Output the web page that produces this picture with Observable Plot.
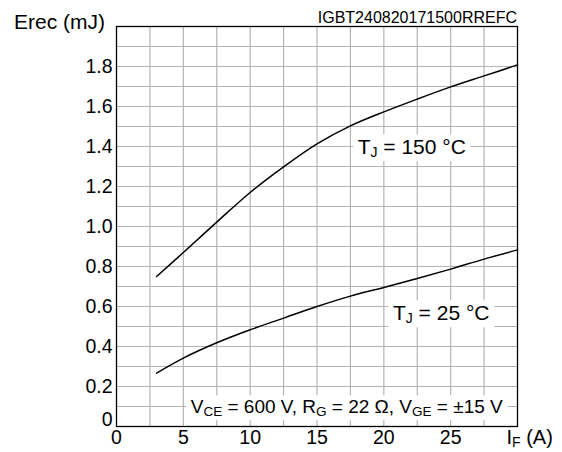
<!DOCTYPE html>
<html>
<head>
<meta charset="utf-8">
<script src="https://cdn.jsdelivr.net/npm/d3@7"></script>
<script src="https://cdn.jsdelivr.net/npm/@observablehq/plot@0.6"></script>
<style>
  html, body { margin: 0; padding: 0; background: #fff; }
  #chart svg { display: block; }
</style>
</head>
<body>
<div id="chart"></div>
<script>
// ---- data ----
const currentA = [3, 5, 7.5, 10, 12.5, 15, 17.5, 20, 22.5, 25, 27.5, 30];
const erec150 = [0.75, 0.87, 1.022, 1.17, 1.298, 1.413, 1.503, 1.573, 1.637, 1.698, 1.753, 1.808];
const erec25  = [0.267, 0.342, 0.4185, 0.4835, 0.542, 0.60, 0.652, 0.695, 0.74, 0.787, 0.837, 0.883];

const xTicks = [0, 5, 10, 15, 20, 25];
const yTicks = [0, 0.2, 0.4, 0.6, 0.8, 1.0, 1.2, 1.4, 1.6, 1.8];
const xGrid = [2.5, 5, 7.5, 10, 12.5, 15, 17.5, 20, 22.5, 25, 27.5];
const yGrid = [0.1,0.2,0.3,0.4,0.5,0.6,0.7,0.8,0.9,1.0,1.1,1.2,1.3,1.4,1.5,1.6,1.7,1.8,1.9];

const yTitle = "Erec (mJ)";
const refCode = "IGBT240820171500RREFC";
const xTitleParts = [["I", ""], ["F", "sub"], [" (A)", ""]];

const curveLabels = [
  { x: 18.08, y: 1.3585, size: 21, sub: 14, parts: [["T", ""], ["J", "sub"], [" = 150 °C", ""]] },
  { x: 20.72, y: 0.5285, size: 21, sub: 14, parts: [["T", ""], ["J", "sub"], [" = 25 °C", ""]] },
  { x: 5.59, y: 0.0635, size: 19, sub: 13.5, parts: [["V", ""], ["CE", "sub"], [" = 600 V, R", ""], ["G", "sub"], [" = 22 Ω, V", ""], ["GE", "sub"], [" = ±15 V", ""]] }
];

const rows = [];
currentA.forEach((a, i) => {
  rows.push({ a, e: erec150[i], s: "150" });
  rows.push({ a, e: erec25[i], s: "25" });
});

const FONT = "'Liberation Sans', Arial, Helvetica, sans-serif";

const chart = Plot.plot({
  width: 562,
  height: 452,
  marginLeft: 116,
  marginRight: 45,
  marginTop: 26,
  marginBottom: 26,
  style: { fontFamily: FONT, fontSize: "19px", color: "#000", background: "#fff" },
  x: { domain: [0, 30] },
  y: { domain: [0, 2] },
  marks: [
    Plot.ruleX(xGrid, { stroke: "#b4b4b4", strokeWidth: 1.2 }),
    Plot.ruleY(yGrid, { stroke: "#b4b4b4", strokeWidth: 1.2 }),
    Plot.frame({ stroke: "#000", strokeWidth: 1.3 }),
    Plot.axisX({ ticks: xTicks, tickSize: 0, tickPadding: 4, label: null, tickFormat: d3.format("d"), fontSize: 19.5 }),
    Plot.axisY({ ticks: yTicks.filter(v => v > 0), tickSize: 0, tickPadding: 4, label: null, tickFormat: d3.format(".1f"), fontSize: 19.5 }),
    Plot.axisY({ ticks: [0], tickSize: 0, tickPadding: 4, label: null, tickFormat: () => "0", dy: -7, fontSize: 19.5 }),
    Plot.line(rows, { x: "a", y: "e", z: "s", stroke: "#000", strokeWidth: 1.5, curve: "catmull-rom" })
  ]
});

document.getElementById("chart").appendChild(chart);

const xs = chart.scale("x");
const ys = chart.scale("y");
const svgSel = d3.select(chart);
const annot = svgSel.append("g").attr("font-family", FONT).attr("fill", "#000");

function addText(px, py, parts, size, subSize, anchor, box) {
  const grp = annot.append("g");
  const t = grp.append("text")
    .attr("x", px).attr("y", py)
    .attr("font-size", size)
    .attr("text-anchor", anchor || "start");
  let shifted = false;
  parts.forEach(([s, kind]) => {
    const ts = t.append("tspan").text(s);
    if (kind === "sub") {
      ts.attr("font-size", subSize).attr("dy", 3);
      shifted = true;
    } else if (shifted) {
      ts.attr("dy", -3);
      shifted = false;
    }
  });
  if (box) {
    const bb = t.node().getBBox();
    grp.insert("rect", "text")
      .attr("x", bb.x - 4.5).attr("y", bb.y - 1)
      .attr("width", bb.width + 9).attr("height", bb.height + 2)
      .attr("fill", "#fff");
  }
  return t;
}

// axis titles and code
const plotRight = xs.apply(30), plotTop = ys.apply(2), plotBottom = ys.apply(0);
addText(14, plotTop + 3, [[yTitle, ""]], 21, 14, "start", false);
addText(plotRight, plotTop - 3, [[refCode, ""]], 16, 11, "end", false);
addText(plotRight - 10.5, plotBottom + 17.5, xTitleParts, 20, 14, "start", false);

// curve labels / condition
curveLabels.forEach(l => {
  addText(xs.apply(l.x), ys.apply(l.y), l.parts, l.size, l.sub, "start", true);
});
</script>
</body>
</html>
